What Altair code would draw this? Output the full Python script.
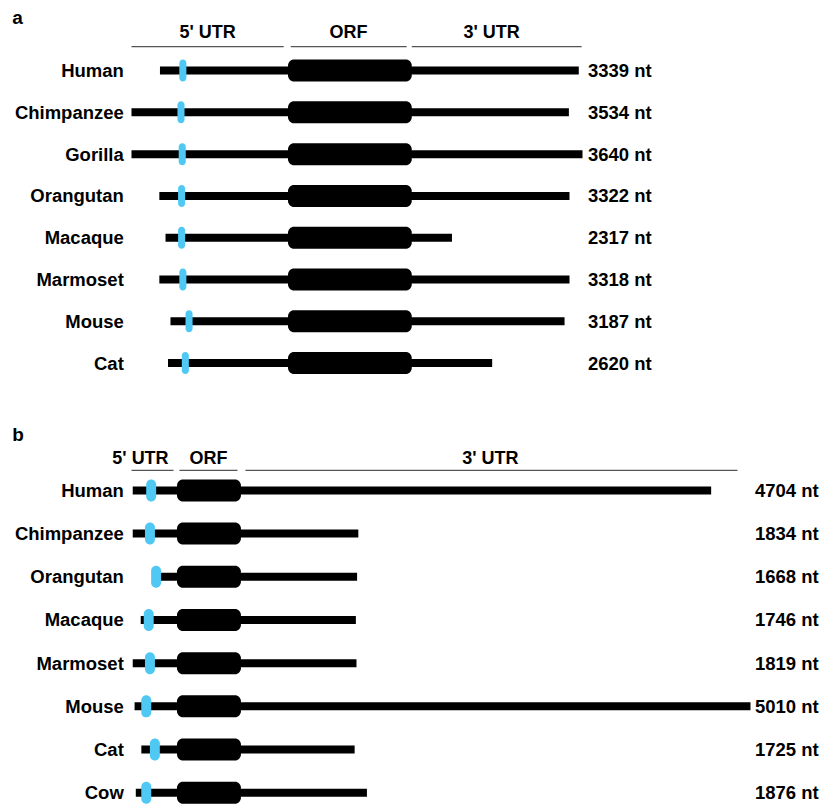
import altair as alt
import pandas as pd

FONT = "Liberation Sans"

# ---------------- panel a ----------------
species_a = ["Human", "Chimpanzee", "Gorilla", "Orangutan", "Macaque", "Marmoset", "Mouse", "Cat"]
length_a = [3339, 3534, 3640, 3322, 2317, 3318, 3187, 2620]
# positions in nt relative to the ORF start
start_a = [-1035, -1265, -1265, -1040, -990, -1040, -950, -970]
end_a = [2350, 2270, 2380, 2275, 1325, 2275, 2235, 1650]
uorf_a = [-850, -865, -855, -860, -860, -850, -800, -830]
orf_a = [0, 1000]
uorf_len_a = 57

# ---------------- panel b ----------------
species_b = ["Human", "Chimpanzee", "Orangutan", "Macaque", "Marmoset", "Mouse", "Cat", "Cow"]
length_b = [4704, 1834, 1668, 1746, 1819, 5010, 1725, 1876]
start_b = [-360, -360, -195, -295, -360, -345, -290, -335]
end_b = [4345, 1475, 1465, 1455, 1460, 4665, 1445, 1545]
uorf_b = [-210, -220, -170, -230, -220, -250, -180, -250]
orf_b = [0, 520]
uorf_len_b = 81

# ---------------- region headers ----------------
hdr_labels = ["5' UTR", "ORF", "3' UTR"]
hdr_a_start = [-1265, 22, 1000]
hdr_a_end = [-35, 959, 2373]
hdr_a_text = [-649, 489, 1646]
hdr_b_start = [-370, 20, 557]
hdr_b_end = [-28, 492, 4559]
hdr_b_text = [-297, 256, 2549]


def panel(letter, species, lengths, starts, ends, uorfs, orf, ulen,
          hs, he, ht, line_row, text_row, xdom, ydom, width, height,
          upad_right, uorf_radius, title_offset):
    rows = list(range(len(species)))
    df = pd.DataFrame({
        "row": rows,
        "species": species,
        "start": starts,
        "end": ends,
        "orf0": [orf[0]] * len(species),
        "orf1": [orf[1]] * len(species),
        "u0": [u - ulen / 2 for u in uorfs],
        "u1": [u + ulen / 2 for u in uorfs],
        "lab": [f"{n} nt" for n in lengths],
    })
    hdr = pd.DataFrame({
        "label": hdr_labels,
        "hs": hs,
        "he": he,
        "ht": ht,
        "lrow": [line_row] * 3,
        "trow": [text_row] * 3,
    })
    xs = alt.Scale(domain=xdom, nice=False, zero=False, padding=0)
    ys = alt.Scale(domain=ydom, nice=False, zero=False, reverse=True, padding=0)
    left_expr = "[" + ",".join(f"'{s}'" for s in species) + "][datum.value]"
    right_expr = "[" + ",".join(f"'{s}'" for s in df["lab"]) + "][datum.value]"
    left_axis = alt.Axis(values=rows, labelExpr=left_expr, title=None, domain=False,
                         ticks=False, grid=False, labelFont=FONT, labelFontSize=18.5,
                         labelFontWeight="bold", labelColor="black", labelPadding=8.2,
                         labelBound=False, labelOverlap=False)
    right_axis = alt.Axis(values=rows, labelExpr=right_expr, title=None, domain=False,
                          ticks=False, grid=False, orient="right", labelFont=FONT,
                          labelFontSize=18.5, labelFontWeight="bold", labelColor="black",
                          labelPadding=upad_right, labelAlign="left", labelBound=False,
                          labelOverlap=False)

    base = alt.Chart(df)
    hbase = alt.Chart(hdr)

    hlines = hbase.mark_rule(color="#555555", strokeWidth=1.2).encode(
        x=alt.X("hs:Q", scale=xs, axis=None), x2="he:Q",
        y=alt.Y("lrow:Q", scale=ys, axis=left_axis))
    htext = hbase.mark_text(font=FONT, fontSize=18, fontWeight="bold",
                            baseline="alphabetic", align="center", color="black").encode(
        x=alt.X("ht:Q", scale=xs, axis=None),
        y=alt.Y("trow:Q", scale=ys, axis=left_axis),
        text="label:N")
    tline = base.mark_rule(color="black", strokeWidth=8).encode(
        x=alt.X("start:Q", scale=xs, axis=None), x2="end:Q",
        y=alt.Y("row:Q", scale=ys, axis=left_axis))
    orfbar = base.mark_bar(color="black", size=22, cornerRadius=6).encode(
        x=alt.X("orf0:Q", scale=xs, axis=None), x2="orf1:Q",
        y=alt.Y("row:Q", scale=ys, axis=left_axis))
    ubar = base.mark_bar(color="#4FC9F4", size=22, cornerRadius=uorf_radius).encode(
        x=alt.X("u0:Q", scale=xs, axis=None), x2="u1:Q",
        y=alt.Y("row:Q", scale=ys, axis=left_axis))
    inner = alt.layer(hlines, htext, tline, orfbar, ubar)
    rlayer = base.mark_point(opacity=0).encode(
        x=alt.X("start:Q", scale=xs, axis=None),
        y=alt.Y("row:Q", scale=ys, axis=right_axis))
    return alt.layer(inner, rlayer).resolve_scale(y="independent").properties(
        width=width, height=height,
        title=alt.TitleParams(letter, anchor="start", frame="bounds", font=FONT,
                              fontSize=19, fontWeight="bold", color="black", dx=-2,
                              offset=title_offset))


pa = panel("a", species_a, length_a, start_a, end_a, uorf_a, orf_a, uorf_len_a,
           hdr_a_start, hdr_a_end, hdr_a_text, -0.575, -0.77,
           [-1265, 2380], [-0.95, 7.5], 451, 353, 5, 3.5, -4)
pb = panel("b", species_b, length_b, start_b, end_b, uorf_b, orf_b, uorf_len_b,
           hdr_b_start, hdr_b_end, hdr_b_text, -0.4625, -0.617,
           [-370, 4665], [-0.85, 7.3], 619, 352, 4, 5, 4.3)

chart = alt.vconcat(pa, pb, spacing=41.8).properties(
    padding={"left": 3.5, "top": 0.9, "right": 0, "bottom": 0}
).configure_view(stroke=None)

chart.save("out.html", embed_options={"renderer": "svg", "actions": False})
